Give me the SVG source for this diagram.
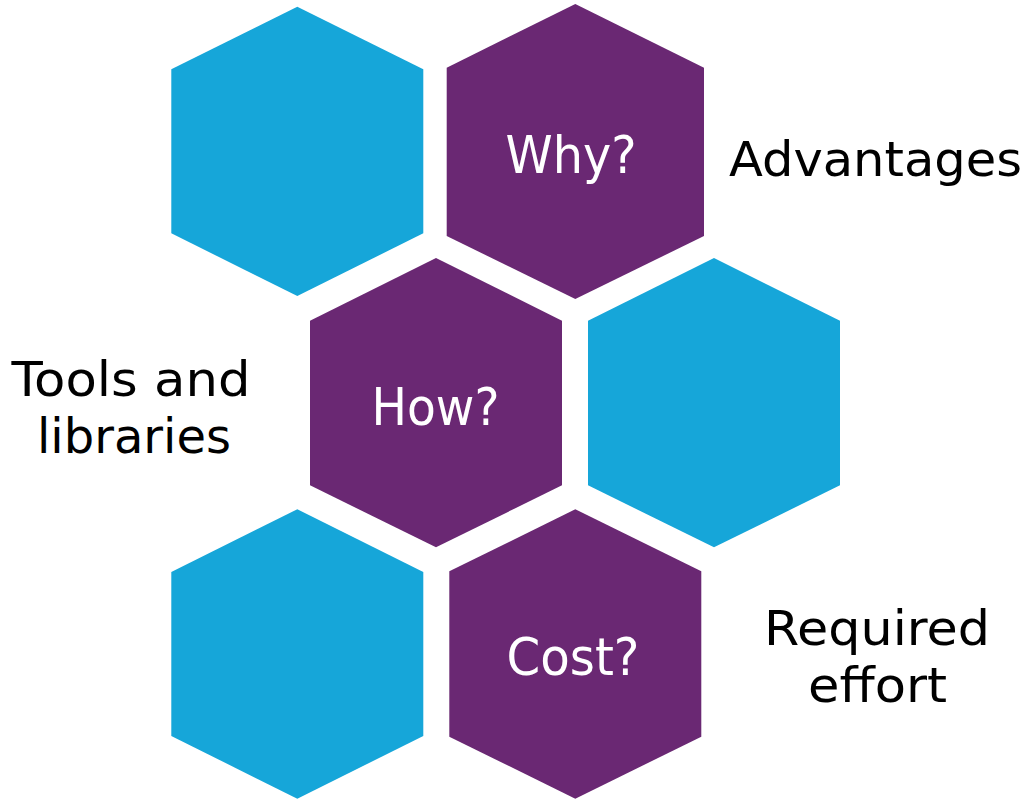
<svg xmlns="http://www.w3.org/2000/svg" width="1031" height="799" viewBox="0 0 1031 799">
<style>
.blue{fill:#16A6D9}
.purple{fill:#6A2873}
.hl{font-family:"DejaVu Sans","Liberation Sans",sans-serif;font-size:52px;fill:#FFFFFF;text-anchor:middle}
.lb{font-family:"DejaVu Sans","Liberation Sans",sans-serif;font-size:48px;fill:#000000;text-anchor:middle}
</style>
<rect width="1031" height="799" fill="#FFFFFF"/>
<g id="hex-top-left">
<polygon class="blue" points="297.3,6.7 423.3,69.3 423.3,233.3 297.3,296 171.3,233.3 171.3,69.3"/>
</g>
<g id="hex-why">
<polygon class="purple" points="575.3,4 704,67.7 704,236 575.3,299 446.7,236 446.7,67.7"/>
<text class="hl" x="571" y="173" textLength="131" lengthAdjust="spacingAndGlyphs">Why?</text>
</g>
<g id="hex-how">
<polygon class="purple" points="436,258 562,320.7 562,485.3 436,547.3 310,485.3 310,320.7"/>
<text class="hl" x="435.5" y="425" textLength="128" lengthAdjust="spacingAndGlyphs">How?</text>
</g>
<g id="hex-mid-right">
<polygon class="blue" points="714,258 840,320.7 840,485.3 714,547.3 588,485.3 588,320.7"/>
</g>
<g id="hex-bottom-left">
<polygon class="blue" points="297.3,509.3 423.3,572 423.3,736 297.3,798.7 171.3,736 171.3,572"/>
</g>
<g id="hex-cost">
<polygon class="purple" points="575.3,509.3 701.3,571.3 701.3,736.7 575.3,798.7 449.3,736.7 449.3,571.3"/>
<text class="hl" x="573" y="675" textLength="133" lengthAdjust="spacingAndGlyphs">Cost?</text>
</g>
<g id="label-advantages">
<text class="lb" x="875.5" y="176" textLength="293" lengthAdjust="spacingAndGlyphs">Advantages</text>
</g>
<g id="label-tools">
<text class="lb"><tspan x="131" y="396" textLength="239" lengthAdjust="spacingAndGlyphs">Tools and</tspan><tspan x="134" y="453" textLength="194" lengthAdjust="spacingAndGlyphs">libraries</tspan></text>
</g>
<g id="label-effort">
<text class="lb"><tspan x="877" y="645" textLength="226" lengthAdjust="spacingAndGlyphs">Required</tspan><tspan x="877.5" y="702" textLength="139" lengthAdjust="spacingAndGlyphs">effort</tspan></text>
</g>
<g id="connectors"></g>
</svg>
